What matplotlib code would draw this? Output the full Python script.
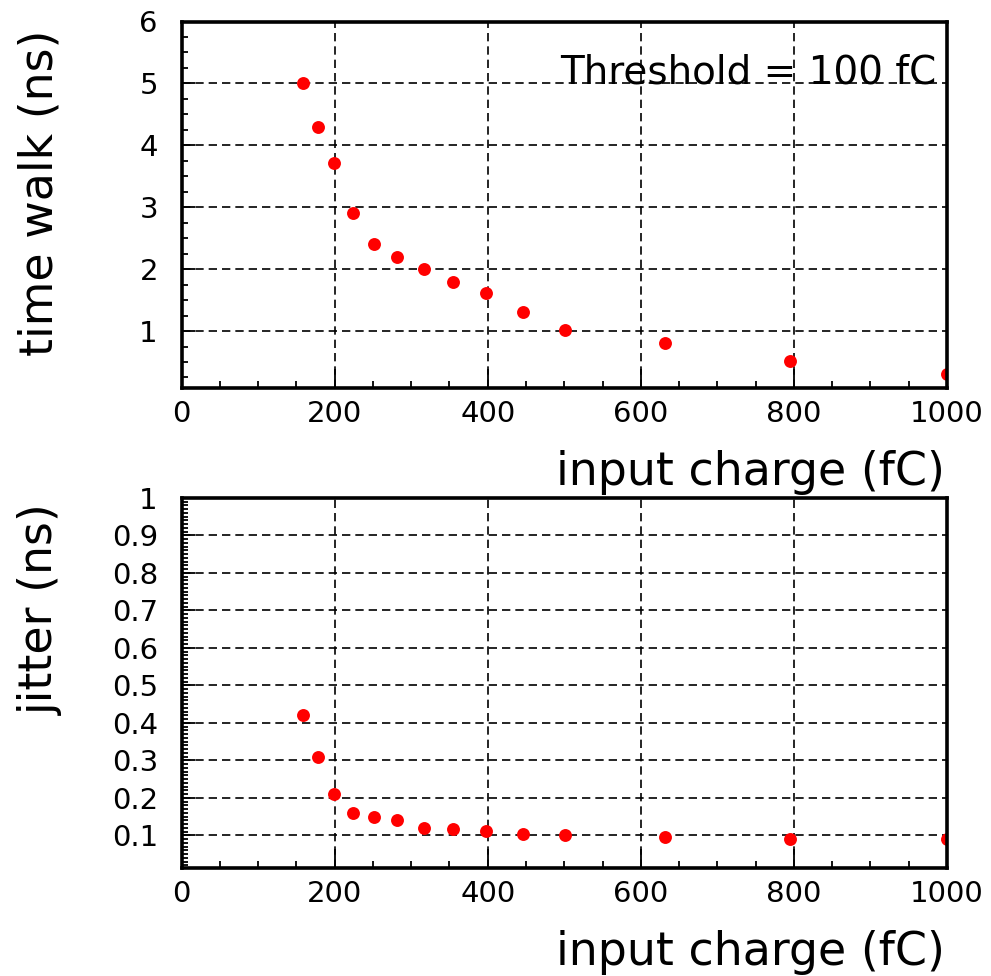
import matplotlib
matplotlib.use("Agg")
import matplotlib.pyplot as plt
from matplotlib.ticker import MultipleLocator, FixedLocator

# ---- data ----
charge = [158.5, 177.8, 199.5, 223.9, 251.2, 281.8, 316.2, 354.8, 398.1, 446.7, 501.2, 631.0, 794.3, 1000.0]
time_walk = [5.0, 4.3, 3.71, 2.9, 2.41, 2.2, 2.0, 1.8, 1.61, 1.31, 1.01, 0.8, 0.51, 0.31]
jitter = [0.42, 0.31, 0.21, 0.16, 0.15, 0.14, 0.12, 0.117, 0.111, 0.105, 0.10, 0.097, 0.091, 0.091]

xticks = [0, 200, 400, 600, 800, 1000]
yticks_top = [1, 2, 3, 4, 5, 6]
yticks_bot = [0.1, 0.2, 0.3, 0.4, 0.5, 0.6, 0.7, 0.8, 0.9, 1.0]
ylabels_bot = ["0.1", "0.2", "0.3", "0.4", "0.5", "0.6", "0.7", "0.8", "0.9", "1"]

x_label = "input charge (fC)"
y_label_top = "time walk (ns)"
y_label_bot = "jitter (ns)"
annotation = "Threshold = 100 fC"

plt.rcParams['font.family'] = ['DejaVu Sans']

W, H = 991, 976
fig = plt.figure(figsize=(W / 100, H / 100), dpi=100)

def px_axes(l, t, r, b):
    return [l / W, 1 - b / H, (r - l) / W, (b - t) / H]

ax1 = fig.add_axes(px_axes(181.5, 21.5, 947, 388))
ax2 = fig.add_axes(px_axes(181.5, 498, 947, 868))

def style(ax, yticks, ylim, yminor, ylabels=None):
    ax.set_xlim(0, 1000)
    ax.set_ylim(*ylim)
    ax.xaxis.set_major_locator(FixedLocator(xticks))
    ax.xaxis.set_minor_locator(MultipleLocator(50))
    ax.yaxis.set_major_locator(FixedLocator(yticks))
    ax.yaxis.set_minor_locator(MultipleLocator(yminor))
    if ylabels is not None:
        ax.set_yticklabels(ylabels)
    ax.grid(True, which='major', color='black', linestyle=(0, (5, 3)), linewidth=1.2)
    ax.set_axisbelow(True)
    for s in ax.spines.values():
        s.set_linewidth(2.6)
        s.set_zorder(5)
    ax.tick_params(axis='x', which='major', direction='in', length=14, width=1.3,
                   labelsize=21, pad=9, top=False)
    ax.tick_params(axis='x', which='minor', direction='in', length=5, width=1.3, top=False)
    ax.tick_params(axis='y', which='major', direction='in', length=9, width=1.3,
                   labelsize=21, pad=17, right=False)
    ax.tick_params(axis='y', which='minor', direction='in', length=4.5, width=1.3, right=False)

style(ax1, yticks_top, (0.08, 6.0), 0.25)
style(ax2, yticks_bot, (0.013, 1.0), 0.01, ylabels_bot)

ax1.plot(charge, time_walk, linestyle='none', marker='o', markersize=9.3,
         color='#ff0000', markeredgewidth=0, zorder=4)
ax2.plot(charge, jitter, linestyle='none', marker='o', markersize=9.3,
         color='#ff0000', markeredgewidth=0, zorder=4)

for ax, xl_y, yl_y in ((ax1, -0.265, 0.977), (ax2, -0.261, 0.987)):
    ax.set_xlabel(x_label, fontsize=33, loc='right', va='baseline')
    ax.xaxis.set_label_coords(0.997, xl_y)
    ax.set_ylabel(y_label_top if ax is ax1 else y_label_bot, fontsize=33, loc='top')
    ax.yaxis.set_label_coords(-0.155, yl_y)

ax1.text(0.986, 5.0, annotation, fontsize=28, ha='right', va='baseline', zorder=6,
         transform=ax1.get_yaxis_transform())

fig.savefig("out.png", dpi=100)
